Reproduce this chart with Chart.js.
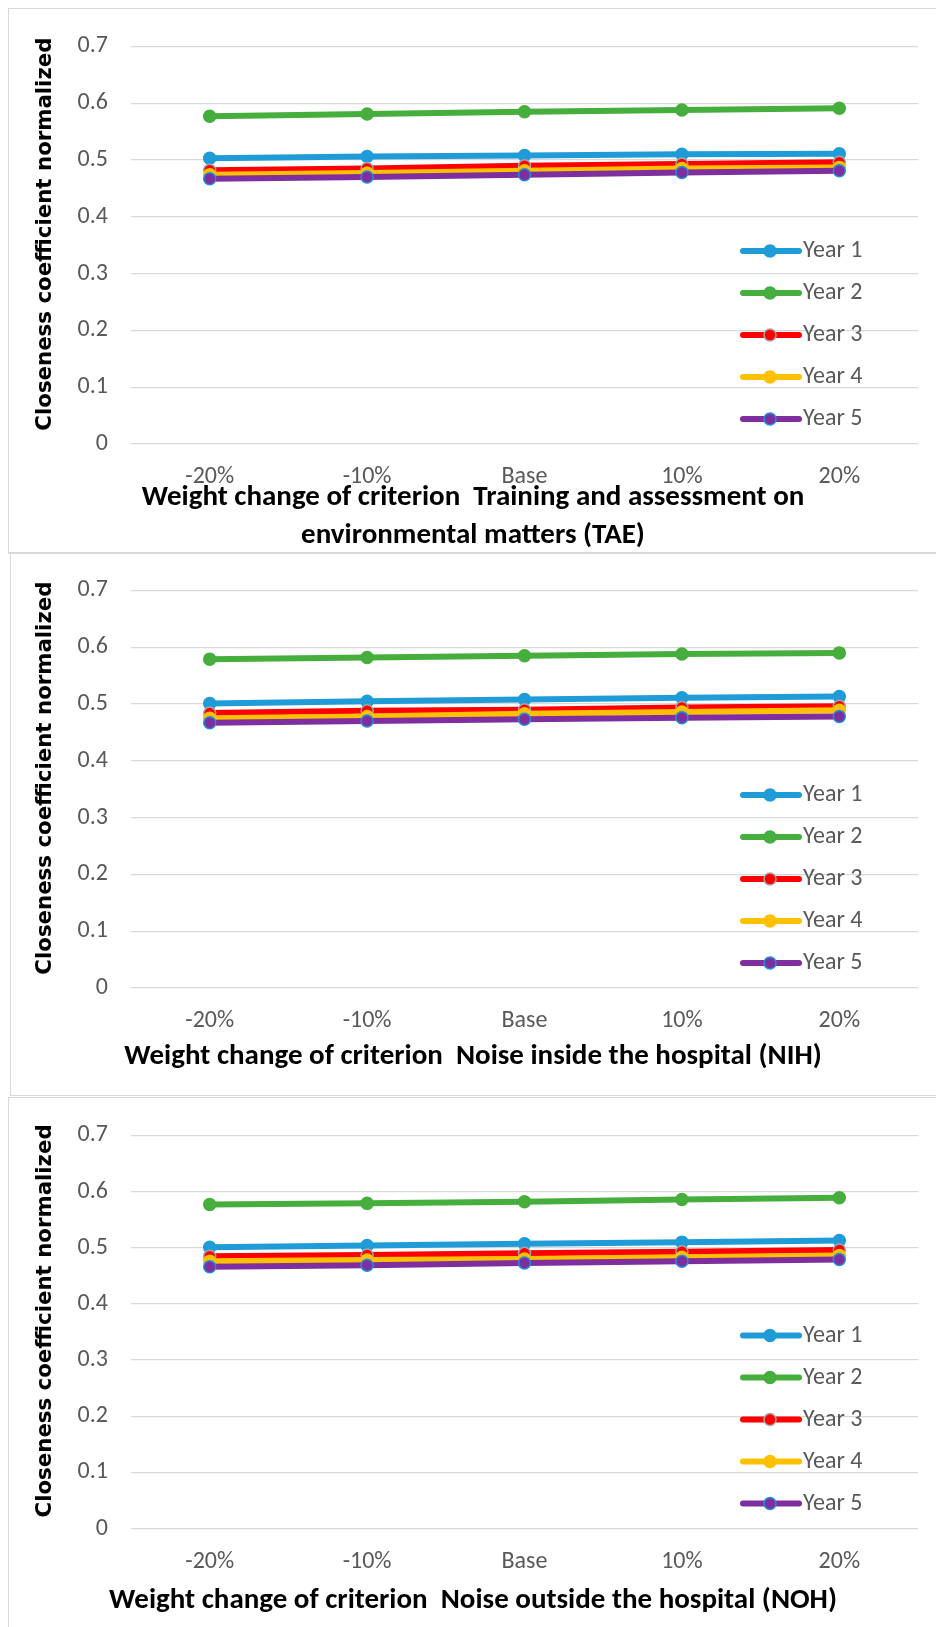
<!DOCTYPE html>
<html>
<head>
<meta charset="utf-8">
<script src="https://cdn.jsdelivr.net/npm/chart.js@4.4.1/dist/chart.umd.min.js"></script>
<style>
body { margin: 0; background: #fff; width: 936px; height: 1627px; overflow: hidden; position: relative; }
.panel { position: absolute; border: 1px solid #d9d9d9; border-right: none; }
canvas { position: absolute; left: 9px; }
</style>
</head>
<body>
<div class="panel" style="left:8px;top:8px;width:940px;height:543px;border-bottom-width:2px;"></div>
<div class="panel" style="left:10px;top:553px;width:940px;height:542px;border-top:none;"></div>
<div class="panel" style="left:8px;top:1097px;width:940px;height:540px;border-bottom:none;"></div>
<canvas id="chart1" width="927" height="542" style="top:9px"></canvas>
<canvas id="chart2" width="927" height="542" style="top:553px"></canvas>
<canvas id="chart3" width="927" height="529" style="top:1098px"></canvas>
<script>
// data
const categories = ["-20%", "-10%", "Base", "10%", "20%"];
const seriesNames = ["Year 1", "Year 2", "Year 3", "Year 4", "Year 5"];
const yTickLabels = ["0", "0.1", "0.2", "0.3", "0.4", "0.5", "0.6", "0.7"];

const taeValues = [
    [0.503, 0.506, 0.508, 0.510, 0.511],
    [0.577, 0.581, 0.585, 0.588, 0.591],
    [0.482, 0.485, 0.490, 0.493, 0.496],
    [0.474, 0.477, 0.481, 0.485, 0.487],
    [0.467, 0.470, 0.474, 0.478, 0.481]
];
const nihValues = [
    [0.501, 0.505, 0.508, 0.511, 0.513],
    [0.579, 0.582, 0.585, 0.588, 0.590],
    [0.484, 0.488, 0.490, 0.494, 0.496],
    [0.475, 0.478, 0.483, 0.486, 0.489],
    [0.467, 0.470, 0.473, 0.476, 0.478]
];
const nohValues = [
    [0.501, 0.504, 0.507, 0.510, 0.513],
    [0.577, 0.579, 0.582, 0.586, 0.589],
    [0.485, 0.487, 0.490, 0.493, 0.496],
    [0.476, 0.478, 0.480, 0.483, 0.486],
    [0.466, 0.469, 0.473, 0.476, 0.479]
];

const lineColors = ["#1f9cd8", "#46ae3c", "#ff0000", "#ffc000", "#7f2ea0"];
const pointEdges = ["#1f9cd8", "#46ae3c", "#a5a5a5", "#ffc000", "#1f8fd8"];

const textFont = "Carlito, 'Liberation Sans', sans-serif";

// legend drawn inside the plot, like the excel one
const insideLegend = {
    id: "insideLegend",
    afterDraw(chart) {
        const ctx = chart.ctx;
        const area = chart.chartArea;
        const sets = chart.data.datasets;
        sets.forEach((ds, i) => {
            const y = area.bottom - 25 - (sets.length - 1 - i) * 42;
            const x0 = area.left + 612;
            ctx.save();
            ctx.strokeStyle = ds.borderColor;
            ctx.lineWidth = 6;
            ctx.lineCap = "round";
            ctx.beginPath();
            ctx.moveTo(x0, y);
            ctx.lineTo(x0 + 56, y);
            ctx.stroke();
            ctx.beginPath();
            ctx.arc(x0 + 27, y, 6, 0, Math.PI * 2);
            ctx.fillStyle = ds.pointBackgroundColor;
            ctx.fill();
            ctx.lineWidth = 1.5;
            ctx.strokeStyle = ds.pointBorderColor;
            ctx.stroke();
            ctx.fillStyle = "#595959";
            ctx.font = "24px " + textFont;
            ctx.textBaseline = "middle";
            ctx.fillText(ds.label, x0 + 60, y);
            ctx.restore();
        });
    }
};

function makeChart(id, values, titleText, pad) {
    return new Chart(document.getElementById(id), {
        type: "line",
        data: {
            labels: categories,
            datasets: values.map((v, i) => ({
                label: seriesNames[i],
                data: v,
                borderColor: lineColors[i],
                backgroundColor: lineColors[i],
                pointBackgroundColor: lineColors[i],
                pointBorderColor: pointEdges[i],
                pointRadius: 6,
                pointBorderWidth: 1.5,
                borderWidth: 6,
                tension: 0,
                order: values.length - i
            }))
        },
        options: {
            responsive: false,
            animation: false,
            layout: { padding: { left: 19, right: 18, top: pad.top, bottom: pad.bottom } },
            plugins: {
                legend: { display: false },
                tooltip: { enabled: false },
                title: {
                    display: true,
                    position: "bottom",
                    text: titleText,
                    color: "#000",
                    font: { family: textFont, size: 29, weight: "bold", lineHeight: "38px" },
                    padding: { top: pad.title, bottom: pad.titleBottom || 0 }
                }
            },
            scales: {
                x: {
                    offset: true,
                    grid: { display: false },
                    border: { display: false },
                    ticks: { color: "#595959", font: { family: textFont, size: 24 }, padding: 11, maxRotation: 0 },
                    afterFit: s => { s.height = 41; }
                },
                y: {
                    min: 0,
                    max: 0.7,
                    border: { display: false },
                    grid: { color: "#d9d9d9", lineWidth: 1.3, drawTicks: false },
                    ticks: {
                        stepSize: 0.1,
                        padding: 23,
                        color: "#595959",
                        font: { family: textFont, size: 24 },
                        callback: (v, i) => yTickLabels[i]
                    },
                    title: {
                        display: true,
                        text: "\u00a0\u00a0\u00a0Closeness coefficient normalized",
                        color: "#000",
                        font: { family: "'DejaVu Sans'", size: 21.3, weight: "bold" },
                        padding: { top: 5, bottom: 0 }
                    },
                    afterFit: s => { s.width = 103; }
                }
            }
        },
        plugins: [insideLegend]
    });
}

makeChart("chart1", taeValues,
    ["Weight change of criterion  Training and assessment on", "environmental matters (TAE)"],
    { top: 36, bottom: 0, title: -6.5, titleBottom: -3.5 });
makeChart("chart2", nihValues,
    "Weight change of criterion  Noise inside the hospital (NIH)",
    { top: 35, bottom: 19, title: 9 });
makeChart("chart3", nohValues,
    "Weight change of criterion  Noise outside the hospital (NOH)",
    { top: 33, bottom: 7, title: 12.4 });
</script>
</body>
</html>
